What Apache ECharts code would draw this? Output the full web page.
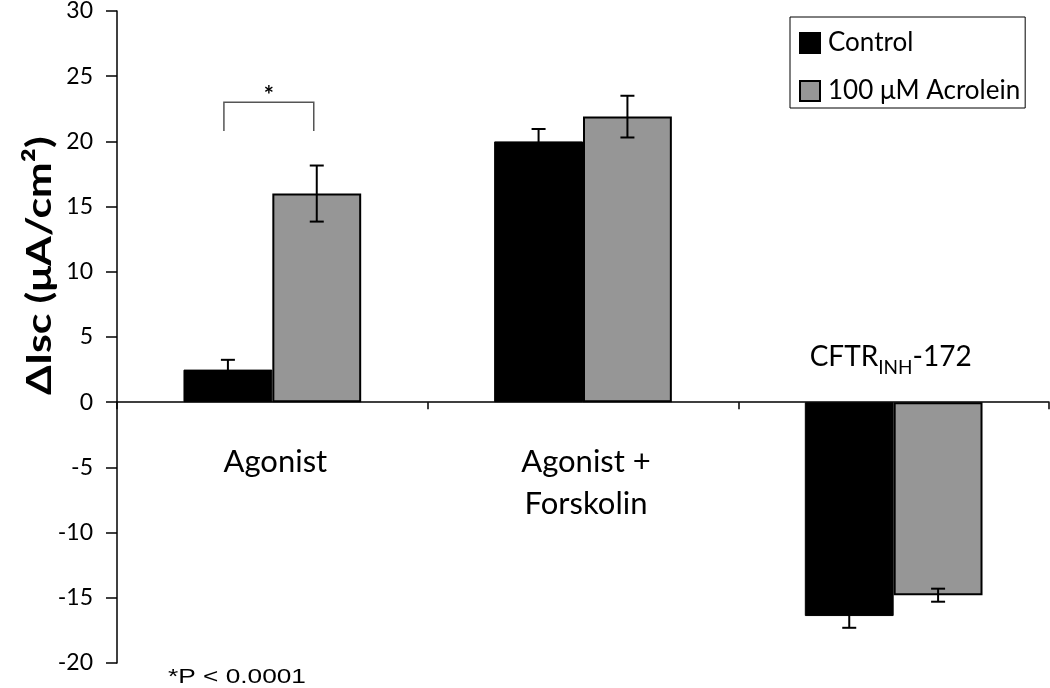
<!DOCTYPE html>
<html>
<head>
<meta charset="utf-8">
<script src="https://cdn.jsdelivr.net/npm/echarts@6/dist/echarts.min.js"></script>
<style>
  html, body { margin: 0; padding: 0; background: #fff; }
  #chart { width: 1050px; height: 688px; }
</style>
</head>
<body>
<div id="chart"></div>
<script>
// data
const categories = ["Agonist", "Agonist +\nForskolin", "CFTR{b|INH}-172"];
const controlMean = [2.5, 20, -16.4];
const controlErr = [0.75, 0.95, 0.9];
const acroleinMean = [16, 21.9, -14.8];
const acroleinErr = [2.15, 1.6, 0.5];
const seriesNames = ["Control", "100 μM Acrolein"];
// significance bracket over the Agonist group: [category, top, leg end]
const bracketData = [[0, 23, 20.8]];
// where each group label sits: [category, value at top of text]
const groupLabelAt = [[0, -3], [1, -3], [2, 5.1]];

const BAR_FRAC = 0.286;
const FONT = "Lato, 'Noto Sans', sans-serif";

const chart = echarts.init(document.getElementById("chart"));

// error bar series, side = -1 for left bar, +1 for right bar
function errorBars(name, means, errs, side) {
  return {
    name: name,
    type: "custom",
    silent: true,
    z: 10,
    encode: { x: 0, y: [1, 2] },
    data: means.map((m, i) => [i, m - errs[i], m + errs[i]]),
    renderItem: (params, api) => {
      const band = api.size([1, 0])[0];
      const dx = side * band * BAR_FRAC / 2;
      const lo = api.coord([api.value(0), api.value(1)]);
      const hi = api.coord([api.value(0), api.value(2)]);
      const x = lo[0] + dx;
      const cap = 7;
      const st = { stroke: "#000", lineWidth: 2 };
      return {
        type: "group",
        children: [
          { type: "line", shape: { x1: x, y1: lo[1], x2: x, y2: hi[1] }, style: st },
          { type: "line", shape: { x1: x - cap, y1: lo[1], x2: x + cap, y2: lo[1] }, style: st },
          { type: "line", shape: { x1: x - cap, y1: hi[1], x2: x + cap, y2: hi[1] }, style: st },
        ],
      };
    },
  };
}

const option = {
  animation: false,
  backgroundColor: "#fff",
  grid: { left: 117, right: 1, top: 11, bottom: 25, containLabel: false, outerBoundsMode: "none" },
  legend: {
    data: seriesNames,
    orient: "vertical",
    left: 790,
    top: 17,
    padding: [13, 5, 4, 9],
    itemWidth: 20,
    itemHeight: 20,
    itemGap: 22,
    icon: "rect",
    borderColor: "#000",
    borderWidth: 1,
    selectedMode: false,
    textStyle: { fontFamily: FONT, fontSize: 26, color: "#000", padding: [0, 0, 0, 3] },
  },
  xAxis: {
    type: "category",
    data: categories,
    axisLine: { onZero: true, lineStyle: { color: "#000", width: 1.5 } },
    axisTick: { show: true, length: 7, lineStyle: { color: "#000", width: 1.5 } },
    axisLabel: { show: false },
    splitLine: { show: false },
  },
  yAxis: {
    type: "value",
    min: -20,
    max: 30,
    interval: 5,
    axisLine: { show: true, lineStyle: { color: "#000", width: 1.5 } },
    axisTick: { show: true, length: 11, lineStyle: { color: "#000", width: 1.5 } },
    axisLabel: { margin: 24, color: "#000", fontFamily: FONT, fontSize: 23 },
    splitLine: { show: false },
  },
  graphic: [
    {
      type: "text",
      x: 57,
      y: 395,
      rotation: Math.PI / 2,
      scaleX: 1.22,
      style: {
        text: "ΔIsc (μA/cm²)",
        font: "bold 35px " + FONT,
        fill: "#000",
        align: "left",
        verticalAlign: "bottom",
      },
    },
    {
      type: "text",
      x: 168,
      y: 667,
      scaleX: 1.25,
      style: {
        text: "*P < 0.0001",
        font: "21px 'Liberation Sans', Arial, sans-serif",
        fill: "#000",
      },
    },
  ],
  series: [
    {
      name: seriesNames[0],
      type: "bar",
      data: controlMean,
      barWidth: (BAR_FRAC * 100) + "%",
      barGap: "0%",
      itemStyle: { color: "#000", borderColor: "#000", borderWidth: 1 },
    },
    {
      name: seriesNames[1],
      type: "bar",
      data: acroleinMean,
      barWidth: (BAR_FRAC * 100) + "%",
      barGap: "0%",
      itemStyle: { color: "#969696", borderColor: "#000", borderWidth: 2 },
    },
    errorBars("errControl", controlMean, controlErr, -1),
    errorBars("errAcrolein", acroleinMean, acroleinErr, 1),
    {
      name: "bracket",
      type: "custom",
      silent: true,
      z: 10,
      encode: { x: 0, y: [1, 2] },
      data: bracketData,
      renderItem: (params, api) => {
        const band = api.size([1, 0])[0];
        const dx = band * BAR_FRAC / 2;
        const top = api.coord([api.value(0), api.value(1)]);
        const leg = api.coord([api.value(0), api.value(2)]);
        const xl = top[0] - dx - 4;
        const xr = top[0] + dx - 3;
        return {
          type: "group",
          children: [
            {
              type: "polyline",
              shape: { points: [[xl, leg[1]], [xl, top[1]], [xr, top[1]], [xr, leg[1]]] },
              style: { stroke: "#555", lineWidth: 1.5, fill: null },
            },
            {
              type: "text",
              style: {
                x: (xl + xr) / 2,
                y: top[1] + 6,
                text: "*",
                font: "bold 24px " + FONT,
                fill: "#000",
                align: "center",
                verticalAlign: "bottom",
              },
            },
          ],
        };
      },
    },
    {
      name: "groupLabels",
      type: "custom",
      silent: true,
      encode: { x: 0, y: 1 },
      data: groupLabelAt,
      renderItem: (params, api) => {
        const p = api.coord([api.value(0), api.value(1)]);
        const i = params.dataIndex;
        const small = i === 2;
        return {
          type: "text",
          style: {
            x: p[0] + (small ? -3 : 3),
            y: p[1],
            text: categories[i],
            align: "center",
            verticalAlign: "top",
            fill: "#000",
            fontFamily: FONT,
            fontSize: small ? 28 : 31,
            lineHeight: 42,
            rich: {
              b: { fontFamily: FONT, fontSize: 19, lineHeight: 34, verticalAlign: "bottom", padding: [14, 0, 0, 0] },
            },
          },
        };
      },
    },
  ],
};

chart.setOption(option);
</script>
</body>
</html>
